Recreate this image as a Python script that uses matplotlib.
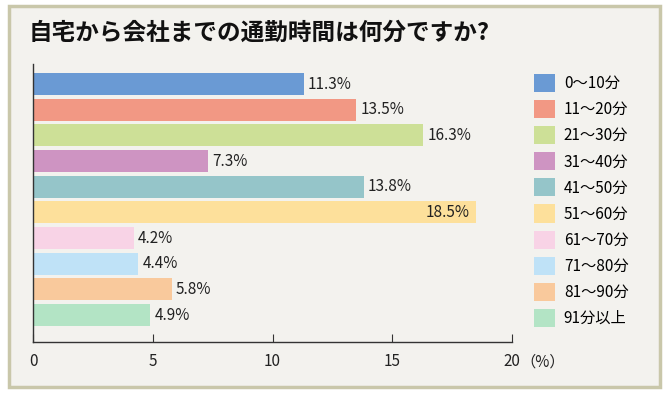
import matplotlib.pyplot as plt
from matplotlib.patches import Rectangle, Patch

plt.rcParams['font.family'] = ['Noto Sans CJK JP', 'DejaVu Sans']

categories = ['0～10分', '11～20分', '21～30分', '31～40分', '41～50分',
              '51～60分', '61～70分', '71～80分', '81～90分', '91分以上']
values = [11.3, 13.5, 16.3, 7.3, 13.8, 18.5, 4.2, 4.4, 5.8, 4.9]
colors = ['#6a9ad4', '#f29884', '#cde097', '#ce94c2', '#95c5c9',
          '#fde09b', '#f8d3e6', '#bfe2f7', '#f9c99c', '#b3e4c5']
xticks = [0, 5, 10, 15, 20]

bg = '#f3f2ee'
fig = plt.figure(figsize=(6.69, 3.93), dpi=100)
fig.patch.set_facecolor('white')
# frame behind everything
frame = Rectangle((9/669, 6/393), 651/669, 381/393, transform=fig.transFigure,
                  facecolor=bg, edgecolor='#c9c7aa', linewidth=2.5, zorder=-10)
fig.patches.append(frame)

fig.text(29/669, 1 - 33/393, '自宅から会社までの通勤時間は何分ですか?',
         fontsize=17, fontweight='bold', va='center', ha='left', color='#111111')

ax = fig.add_axes([33/669, 1 - 342/393, 479/669, 278/393])
ax.set_zorder(1)
ax.patch.set_alpha(0)
ypos = list(range(len(values)))
ax.barh(ypos, values, height=0.86, color=colors)
ax.set_xlim(0, 20)
ax.set_ylim(10.05, -0.78)

for y, v in zip(ypos, values):
    if v > 17:
        ax.annotate(f'{v}%', (v, y), xytext=(-5, 0), textcoords='offset points',
                    ha='right', va='center', fontsize=11, color='#222222')
    else:
        ax.annotate(f'{v}%', (v, y), xytext=(3, 0), textcoords='offset points',
                    ha='left', va='center', fontsize=11, color='#222222')

for s in ['top', 'right']:
    ax.spines[s].set_visible(False)
for s in ['left', 'bottom']:
    ax.spines[s].set_color('#333333')
    ax.spines[s].set_linewidth(1)
ax.set_yticks([])
ax.set_xticks(xticks)
ax.set_xticklabels([str(t) for t in xticks])
ax.tick_params(axis='x', direction='in', length=6, pad=8, labelsize=11, colors='#333333',
               labelcolor='#222222')
ax.annotate('（%）', (1, 0), xycoords='axes fraction', xytext=(6, -8),
            textcoords='offset points', ha='left', va='top', fontsize=11, color='#222222')

handles = [Patch(facecolor=c, edgecolor='none') for c in colors]
fig.legend(handles, categories, loc='upper left', bbox_to_anchor=(534/669, 1 - 74/393),
           frameon=False, fontsize=11, handlelength=1.4, handleheight=1.45,
           labelspacing=0.52, handletextpad=0.55, borderaxespad=0, borderpad=0)

fig.savefig('out.png', dpi=100, facecolor=fig.get_facecolor())
